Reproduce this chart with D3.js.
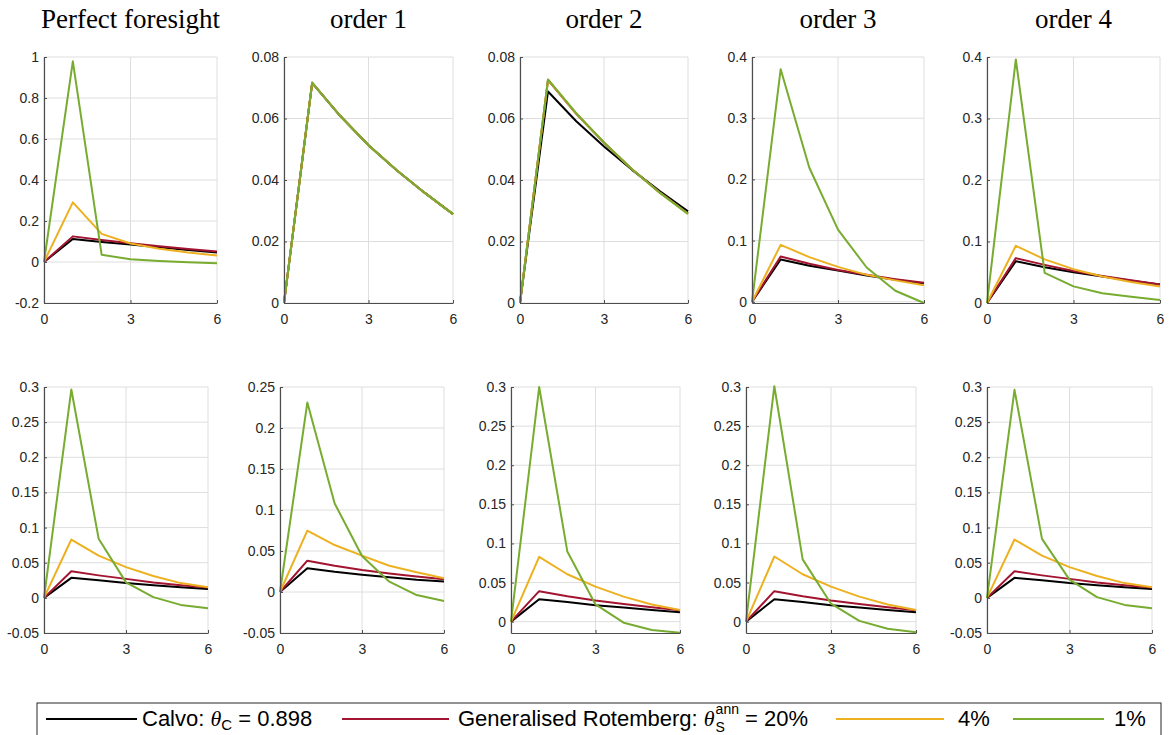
<!DOCTYPE html>
<html>
<head>
<meta charset="utf-8">
<script src="https://cdn.jsdelivr.net/npm/d3@7"></script>
<style>
  body { margin: 0; background: #fff; }
  svg { display: block; }
  .tick text { font-family: "Liberation Sans", Arial, sans-serif; font-size: 14px; fill: #262626; }
</style>
</head>
<body>
<div id="chart"></div>
<script>
// horizon and labels
var steps = [0, 1, 2, 3, 4, 5, 6];
var xTicks = [0, 3, 6];
var titles = ["Perfect foresight", "order 1", "order 2", "order 3", "order 4"];
var colors = ["#000000", "#A2142F", "#EDB120", "#77AC30"];

// each panel: [calvo, rotemberg 20%, 4%, 1%]
var topPF = [
  [0, 0.112, 0.098, 0.085, 0.072, 0.058, 0.046],
  [0, 0.125, 0.107, 0.091, 0.077, 0.063, 0.051],
  [0, 0.291, 0.137, 0.090, 0.065, 0.046, 0.032],
  [0, 0.979, 0.035, 0.013, 0.005, -0.001, -0.006]
];
var topO1 = [
  [0, 0.0716, 0.0608, 0.0513, 0.0432, 0.0358, 0.0289],
  [0, 0.0716, 0.0608, 0.0513, 0.0432, 0.0358, 0.0289],
  [0, 0.0716, 0.0608, 0.0513, 0.0432, 0.0358, 0.0289],
  [0, 0.0716, 0.0608, 0.0513, 0.0432, 0.0358, 0.0289]
];
var topO2 = [
  [0, 0.0688, 0.0592, 0.0509, 0.0433, 0.0363, 0.0298],
  [0, 0.0725, 0.0616, 0.0521, 0.0435, 0.0359, 0.0291],
  [0, 0.0726, 0.0617, 0.0521, 0.0435, 0.0358, 0.0290],
  [0, 0.0727, 0.0618, 0.0522, 0.0435, 0.0358, 0.0290]
];
var topO3 = [
  [0, 0.069, 0.059, 0.051, 0.043, 0.036, 0.030],
  [0, 0.074, 0.062, 0.052, 0.044, 0.037, 0.031],
  [0, 0.093, 0.073, 0.057, 0.044, 0.035, 0.027],
  [0, 0.380, 0.219, 0.118, 0.056, 0.018, -0.002]
];
var topO4 = [
  [0, 0.068, 0.058, 0.050, 0.043, 0.036, 0.030],
  [0, 0.073, 0.062, 0.052, 0.044, 0.037, 0.030],
  [0, 0.093, 0.071, 0.055, 0.043, 0.034, 0.027],
  [0, 0.396, 0.049, 0.027, 0.016, 0.010, 0.005]
];
var botPF = [
  [0, 0.0285, 0.025, 0.021, 0.018, 0.015, 0.0125],
  [0, 0.0378, 0.032, 0.027, 0.022, 0.018, 0.0148],
  [0, 0.083, 0.060, 0.0437, 0.031, 0.021, 0.015],
  [0, 0.2965, 0.084, 0.022, 0.001, -0.010, -0.0147]
];
var botO1 = [
  [0, 0.029, 0.0246, 0.021, 0.018, 0.015, 0.0128],
  [0, 0.0382, 0.032, 0.0268, 0.0225, 0.0188, 0.0155],
  [0, 0.0748, 0.0573, 0.0443, 0.032, 0.024, 0.0167],
  [0, 0.231, 0.108, 0.044, 0.0126, -0.0037, -0.011]
];
var botO2 = [
  [0, 0.0286, 0.025, 0.021, 0.018, 0.015, 0.012],
  [0, 0.039, 0.0325, 0.027, 0.0225, 0.0185, 0.0145],
  [0, 0.0828, 0.0606, 0.0448, 0.032, 0.022, 0.015],
  [0, 0.300, 0.0896, 0.022, -0.0013, -0.0107, -0.0142]
];
var botO3 = [
  [0, 0.0286, 0.025, 0.021, 0.018, 0.015, 0.012],
  [0, 0.039, 0.0325, 0.027, 0.0225, 0.0185, 0.0145],
  [0, 0.0833, 0.0606, 0.0448, 0.032, 0.022, 0.015],
  [0, 0.301, 0.0796, 0.023, 0.001, -0.009, -0.0135]
];
var botO4 = [
  [0, 0.0285, 0.025, 0.021, 0.018, 0.015, 0.0125],
  [0, 0.0378, 0.032, 0.027, 0.022, 0.018, 0.0148],
  [0, 0.083, 0.060, 0.0437, 0.031, 0.021, 0.015],
  [0, 0.296, 0.084, 0.026, 0.001, -0.010, -0.0147]
];

// y axis limits and ticks
var yLims = [
  [-0.2, 1], [0, 0.08], [0, 0.08], [-0.002, 0.4], [0, 0.4],
  [-0.05, 0.3], [-0.05, 0.25], [-0.0145, 0.3], [-0.0145, 0.3], [-0.05, 0.3]
];
var yTickSets = [
  [-0.2, 0, 0.2, 0.4, 0.6, 0.8, 1],
  [0, 0.02, 0.04, 0.06, 0.08],
  [0, 0.02, 0.04, 0.06, 0.08],
  [0, 0.1, 0.2, 0.3, 0.4],
  [0, 0.1, 0.2, 0.3, 0.4],
  [-0.05, 0, 0.05, 0.1, 0.15, 0.2, 0.25, 0.3],
  [-0.05, 0, 0.05, 0.1, 0.15, 0.2, 0.25],
  [0, 0.05, 0.1, 0.15, 0.2, 0.25, 0.3],
  [0, 0.05, 0.1, 0.15, 0.2, 0.25, 0.3],
  [-0.05, 0, 0.05, 0.1, 0.15, 0.2, 0.25, 0.3]
];
var panelData = [topPF, topO1, topO2, topO3, topO4, botPF, botO1, botO2, botO3, botO4];

// plot boxes [left, right, top, bottom]
var boxes = [
  [44, 217, 57, 303], [284, 453, 57, 303], [520, 688, 57, 303], [752, 924, 57, 303], [987, 1160, 57, 303],
  [44, 208, 387, 633], [280, 444, 387, 633], [511, 680, 387, 633], [746, 916, 387, 633], [987, 1152, 387, 633]
];

var svg = d3.select("#chart").append("svg")
  .attr("width", 1169)
  .attr("height", 735);

function fmt(d){
  return String(+d.toFixed(4));
}

panelData.forEach(function(series, i){
  var b = boxes[i];
  var w = b[1] - b[0], h = b[3] - b[2];
  var g = svg.append("g").attr("transform", "translate(" + b[0] + "," + b[2] + ")");

  var x = d3.scaleLinear().domain([0, 6]).range([0, w]);
  var y = d3.scaleLinear().domain(yLims[i]).range([h, 0]);

  // grid
  g.append("g").selectAll("line").data(xTicks).join("line")
    .attr("x1", d => x(d)).attr("x2", d => x(d))
    .attr("y1", 0).attr("y2", h)
    .attr("stroke", "#dedede").attr("stroke-width", 1);
  g.append("g").selectAll("line").data(yTickSets[i]).join("line")
    .attr("x1", 0).attr("x2", w)
    .attr("y1", d => y(d)).attr("y2", d => y(d))
    .attr("stroke", "#dedede").attr("stroke-width", 1);

  // lines
  var line = d3.line()
    .x(function(d, k) { return x(steps[k]); })
    .y(function(d) { return y(d); });
  series.forEach(function(vals, s){
    g.append("path")
      .datum(vals)
      .attr("fill", "none")
      .attr("stroke", colors[s])
      .attr("stroke-width", 2)
      .attr("stroke-linejoin", "round")
      .attr("d", line);
  });

  // axes
  var xAxis = g.append("g")
    .attr("transform", "translate(0," + h + ")")
    .call(d3.axisBottom(x).tickValues(xTicks).tickFormat(fmt).tickSizeInner(-3).tickSizeOuter(0).tickPadding(7));
  var yAxis = g.append("g")
    .call(d3.axisLeft(y).tickValues(yTickSets[i]).tickFormat(fmt).tickSizeInner(-3).tickSizeOuter(0).tickPadding(5));
  [xAxis, yAxis].forEach(function(a){
    a.select(".domain").attr("stroke", "#4d4d4d").attr("stroke-width", 1.2);
    a.selectAll(".tick line").attr("stroke", "#4d4d4d");
  });
  xAxis.selectAll(".tick text").attr("dy", "1em");

  if (i < 5) {
    svg.append("text")
      .attr("x", (b[0] + b[1]) / 2)
      .attr("y", 28)
      .attr("text-anchor", "middle")
      .style("font-family", "'Liberation Serif', 'Times New Roman', serif")
      .style("font-size", "27px")
      .attr("fill", "#000")
      .text(titles[i]);
  }
});

// legend
var legend = svg.append("g");
legend.append("rect")
  .attr("x", 37).attr("y", 703)
  .attr("width", 1124).attr("height", 40)
  .attr("fill", "#fff")
  .attr("stroke", "#262626").attr("stroke-width", 1);

var legY = 719;
var legFont = "'Liberation Sans', Arial, sans-serif";
var legSize = 22;
var swatches = [[46, 137], [342, 449], [836, 944], [1013, 1104]];
swatches.forEach(function(s, k){
  legend.append("line")
    .attr("x1", s[0]).attr("x2", s[1])
    .attr("y1", legY).attr("y2", legY)
    .attr("stroke", colors[k]).attr("stroke-width", 2);
});

function legText(xPos, parts){
  var t = legend.append("text")
    .attr("x", xPos).attr("y", legY + 7)
    .style("font-family", legFont)
    .style("font-size", legSize + "px")
    .attr("fill", "#000");
  parts.forEach(function(p){
    var ts = t.append("tspan").text(p.t);
    if (p.italic) ts.style("font-style", "italic").style("font-family", "'Liberation Serif', serif");
    if (p.size) ts.style("font-size", p.size + "px");
    if (p.dy) ts.attr("dy", p.dy);
  });
  return t;
}

legText(142, [
  {t: "Calvo: "}, {t: "θ", italic: true}, {t: "C", size: 15, dy: 4}, {t: " = 0.898", dy: -4}
]);

// theta with stacked superscript "ann" and subscript "S"
var t2 = legText(458, [{t: "Generalised Rotemberg: "}, {t: "θ", italic: true}]);
var x2 = 458 + t2.node().getComputedTextLength();
var sup = legend.append("text")
  .attr("x", x2 + 1).attr("y", legY - 5)
  .style("font-family", legFont).style("font-size", "14px")
  .text("ann");
legend.append("text")
  .attr("x", x2 + 1).attr("y", legY + 13)
  .style("font-family", legFont).style("font-size", "14px")
  .text("S");
var x3 = x2 + 1 + sup.node().getComputedTextLength();
legText(x3 + 6, [{t: "= 20%"}]);

legText(958, [{t: "4%"}]);
legText(1114, [{t: "1%"}]);
</script>
</body>
</html>
